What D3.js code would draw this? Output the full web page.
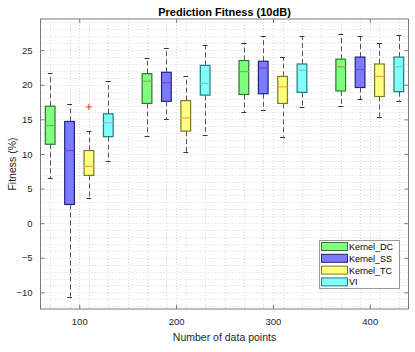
<!DOCTYPE html>
<html>
<head>
<meta charset="utf-8">
<script src="https://cdn.jsdelivr.net/npm/d3@7"></script>
<style>
  body { margin: 0; background: #fff; }
  text { font-family: "Liberation Sans", Arial, sans-serif; }
</style>
</head>
<body>
<svg id="chart" width="415" height="352"></svg>
<script>
// groups on the x axis and the series drawn in each group
var groups = [100, 200, 300, 400];
var seriesNames = ["Kernel_DC", "Kernel_SS", "Kernel_TC", "VI"];
var seriesOffset = [-30, -10, 10, 30];

// box stats per group: [lower whisker, q1, median, q3, upper whisker]
var statsDC = [[6.5, 11.4, 14.1, 16.9, 21.7], [12.6, 17.3, 20.5, 21.6, 23.8], [16.0, 18.6, 21.9, 23.5, 26.1], [16.9, 19.1, 22.6, 23.7, 27.4]];
var statsSS = [[-10.6, 2.7, 10.5, 14.7, 17.2], [15.0, 17.6, 20.3, 21.8, 25.3], [16.4, 18.7, 22.4, 23.4, 27.0], [17.9, 19.6, 22.2, 24.0, 27.1]];
var statsTC = [[3.6, 6.9, 8.2, 10.5, 13.3], [10.3, 13.3, 15.2, 17.7, 21.2], [12.5, 17.3, 19.7, 21.2, 24.0], [15.4, 18.3, 21.2, 23.0, 26.1]];
var statsVI = [[9.0, 12.5, 14.5, 15.8, 20.5], [12.8, 18.5, 20.2, 22.8, 25.8], [16.8, 18.9, 22.1, 23.0, 27.0], [17.7, 19.0, 22.6, 24.0, 27.2]];

// outliers: series index, group index, value
var outliers = [[2, 0, 16.8]];

var xTicks = [100, 200, 300, 400];
var yTicks = [-10, -5, 0, 5, 10, 15, 20, 25];

var fills = ["#80ff80", "#7b7bff", "#ffff80", "#80ffff"];
var edges = ["#2a7a2a", "#24247e", "#7a7a24", "#247a7a"];
var medians = ["#a0a040", "#8040c0", "#ffa040", "#90c0c0"];

var allStats = [statsDC, statsSS, statsTC, statsVI];

var svg = d3.select("svg#chart");
var mLeft = 40.5, mRight = 408.5, mTop = 19, mBottom = 309;

var x = d3.scaleLinear().domain([60, 440]).range([mLeft, mRight]);
var y = d3.scaleLinear().domain([-12.4, 29.5]).range([mBottom, mTop]);

// minor grid (dotted)
var grid = svg.append("g").attr("class", "grid");
grid.selectAll("line.gy")
    .data(d3.range(-12, 30))
    .enter().append("line")
    .attr("x1", mLeft).attr("x2", mRight)
    .attr("y1", function(d) { return Math.round(y(d)) + 0.5; })
    .attr("y2", function(d) { return Math.round(y(d)) + 0.5; })
    .style("stroke", "#d8d8d8").style("stroke-dasharray", "1,2");
grid.selectAll("line.gx")
    .data(d3.range(70, 440, 20).concat(xTicks))
    .enter().append("line")
    .attr("y1", mTop).attr("y2", mBottom)
    .attr("x1", function(d) { return Math.round(x(d)) + 0.5; })
    .attr("x2", function(d) { return Math.round(x(d)) + 0.5; })
    .style("stroke", "#d8d8d8").style("stroke-dasharray", "1,2");

// boxes
var boxW = 10, capW = 5;
allStats.forEach(function(stats, s) {
  var g = svg.append("g").attr("class", "series");
  stats.forEach(function(st, gi) {
    var cx = groups[gi] + seriesOffset[s];
    var px = Math.round(x(cx)) + 0.5;
    // whiskers
    g.append("line").attr("x1", px).attr("x2", px)
      .attr("y1", y(st[3])).attr("y2", y(st[4]))
      .style("stroke", "#555").style("stroke-dasharray", "5,3");
    g.append("line").attr("x1", px).attr("x2", px)
      .attr("y1", y(st[1])).attr("y2", y(st[0]))
      .style("stroke", "#555").style("stroke-dasharray", "5,3");
    [st[0], st[4]].forEach(function(v) {
      g.append("line")
        .attr("x1", x(cx - capW / 2)).attr("x2", x(cx + capW / 2))
        .attr("y1", Math.round(y(v)) + 0.5).attr("y2", Math.round(y(v)) + 0.5)
        .style("stroke", "#333");
    });
    g.append("rect")
      .attr("x", x(cx - boxW / 2))
      .attr("width", x(cx + boxW / 2) - x(cx - boxW / 2))
      .attr("y", y(st[3]))
      .attr("height", y(st[1]) - y(st[3]))
      .style("fill", fills[s]).style("stroke", edges[s]).style("stroke-width", 1.2);
    g.append("line")
      .attr("x1", x(cx - boxW / 2)).attr("x2", x(cx + boxW / 2))
      .attr("y1", y(st[2])).attr("y2", y(st[2]))
      .style("stroke", medians[s]).style("stroke-width", 1.2);
  });
});

// outliers
outliers.forEach(function(o) {
  var ox = x(groups[o[1]] + seriesOffset[o[0]]), oy = y(o[2]);
  svg.append("path")
    .attr("d", "M" + (ox - 3) + "," + oy + "H" + (ox + 3) + "M" + ox + "," + (oy - 3) + "V" + (oy + 3))
    .style("stroke", "#ff3030").style("fill", "none");
});

// axes box with inward ticks on all sides
var axisColor = "#7a7a7a";
function styleAxis(a) {
  a.select(".domain").remove();
  a.selectAll(".tick line").style("stroke", axisColor);
  a.selectAll(".tick text").style("fill", "#262626").style("font-size", "9.5px");
}
var ax = svg.append("g").attr("transform", "translate(0," + mBottom + ")")
  .call(d3.axisBottom(x).tickValues(xTicks).tickSizeInner(-4).tickPadding(9));
styleAxis(ax);
var axT = svg.append("g").attr("transform", "translate(0," + mTop + ")")
  .call(d3.axisTop(x).tickValues(xTicks).tickSizeInner(-4).tickFormat(""));
styleAxis(axT);
var ay = svg.append("g").attr("transform", "translate(" + mLeft + ",0)")
  .call(d3.axisLeft(y).tickValues(yTicks).tickSizeInner(-4).tickPadding(8));
styleAxis(ay);
var ayR = svg.append("g").attr("transform", "translate(" + mRight + ",0)")
  .call(d3.axisRight(y).tickValues(yTicks).tickSizeInner(-4).tickFormat(""));
styleAxis(ayR);

svg.append("rect")
  .attr("x", mLeft).attr("y", mTop)
  .attr("width", mRight - mLeft).attr("height", mBottom - mTop)
  .style("fill", "none").style("stroke", axisColor);

// labels
svg.append("text")
  .attr("x", (mLeft + mRight) / 2).attr("y", 16)
  .attr("text-anchor", "middle")
  .style("font-size", "11px").style("font-weight", "bold").style("fill", "#000")
  .text("Prediction Fitness (10dB)");
svg.append("text")
  .attr("x", (mLeft + mRight) / 2).attr("y", 341)
  .attr("text-anchor", "middle")
  .style("font-size", "10.5px").style("fill", "#262626")
  .text("Number of data points");
svg.append("text")
  .attr("transform", "translate(16," + (mTop + mBottom) / 2 + ") rotate(-90)")
  .attr("text-anchor", "middle")
  .style("font-size", "10.5px").style("fill", "#262626")
  .text("Fitness (%)");

// legend
var legend = svg.append("g").attr("transform", "translate(319,240)");
legend.append("rect")
  .attr("x", 0.5).attr("y", 0.5).attr("width", 80).attr("height", 48)
  .style("fill", "#fff").style("stroke", "#999");
seriesNames.forEach(function(name, i) {
  legend.append("rect")
    .attr("x", 2.5).attr("y", 2.5 + i * 11.8)
    .attr("width", 26).attr("height", 8)
    .style("fill", fills[i]).style("stroke", edges[i]);
  legend.append("text")
    .attr("x", 30).attr("y", 10 + i * 11.8)
    .style("font-size", "9px").style("fill", "#000")
    .text(name);
});
</script>
</body>
</html>
